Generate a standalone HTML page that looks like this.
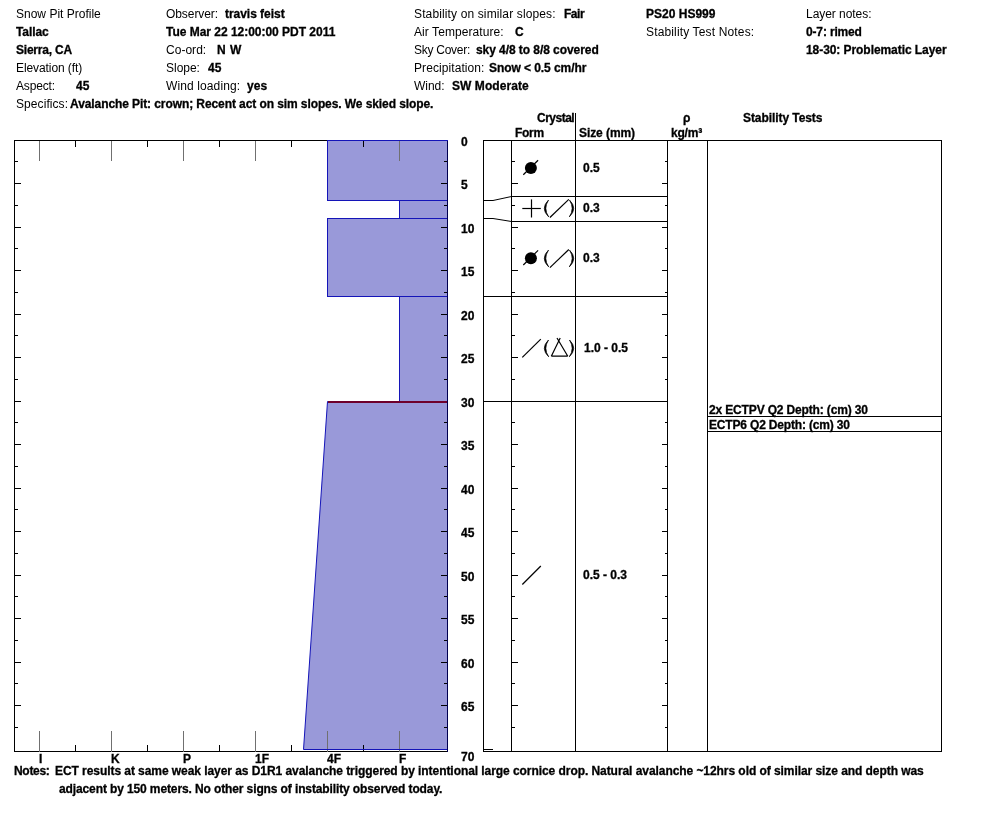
<!DOCTYPE html>
<html><head><meta charset="utf-8"><title>Snow Pit Profile</title>
<style>
html,body{margin:0;padding:0;background:#fff;}
body{width:994px;height:840px;position:relative;overflow:hidden;font-family:"Liberation Sans",sans-serif;font-size:12px;color:#000;}
.t{will-change:transform;position:absolute;white-space:nowrap;line-height:14px;height:14px;}
.b{font-weight:bold;-webkit-text-stroke:0.3px #000;}
svg{position:absolute;left:0;top:0;}
</style></head><body>
<div class="t " style="left:16.3px;top:6.6px;letter-spacing:0.006px;">Snow Pit Profile</div>
<div class="t b" style="left:16.3px;top:24.6px;letter-spacing:-0.073px;">Tallac</div>
<div class="t b" style="left:16.3px;top:42.6px;letter-spacing:-0.213px;">Sierra, CA</div>
<div class="t " style="left:16.3px;top:60.6px;letter-spacing:-0.083px;">Elevation (ft)</div>
<div class="t " style="left:16.3px;top:78.6px;letter-spacing:-0.147px;">Aspect:</div>
<div class="t b" style="left:75.5px;top:78.6px;">45</div>
<div class="t " style="left:16.3px;top:96.6px;letter-spacing:0.074px;">Specifics:</div>
<div class="t b" style="left:69.9px;top:96.6px;letter-spacing:-0.087px;">Avalanche Pit: crown; Recent act on sim slopes. We skied slope.</div>
<div class="t " style="left:166.3px;top:6.6px;letter-spacing:-0.076px;">Observer:</div>
<div class="t b" style="left:225.4px;top:6.6px;letter-spacing:-0.036px;">travis feist</div>
<div class="t b" style="left:166.3px;top:24.6px;letter-spacing:-0.021px;">Tue Mar 22 12:00:00 PDT 2011</div>
<div class="t " style="left:166.3px;top:42.6px;letter-spacing:0.026px;">Co-ord:</div>
<div class="t b" style="left:216.6px;top:42.6px;">N</div>
<div class="t b" style="left:230.4px;top:42.6px;">W</div>
<div class="t " style="left:166.3px;top:60.6px;letter-spacing:-0.022px;">Slope:</div>
<div class="t b" style="left:207.8px;top:60.6px;">45</div>
<div class="t " style="left:166.3px;top:78.6px;letter-spacing:0.114px;">Wind loading:</div>
<div class="t b" style="left:246.8px;top:78.6px;letter-spacing:0.090px;">yes</div>
<div class="t " style="left:414.3px;top:6.6px;letter-spacing:0.130px;">Stability on similar slopes:</div>
<div class="t b" style="left:563.5px;top:6.6px;letter-spacing:-0.479px;">Fair</div>
<div class="t " style="left:414.3px;top:24.6px;letter-spacing:0.070px;">Air Temperature:</div>
<div class="t b" style="left:515px;top:24.6px;">C</div>
<div class="t " style="left:414.3px;top:42.6px;letter-spacing:-0.259px;">Sky Cover:</div>
<div class="t b" style="left:475.5px;top:42.6px;letter-spacing:-0.063px;">sky 4/8 to 8/8 covered</div>
<div class="t " style="left:414.3px;top:60.6px;letter-spacing:0.080px;">Precipitation:</div>
<div class="t b" style="left:489.3px;top:60.6px;letter-spacing:-0.067px;">Snow &lt; 0.5 cm/hr</div>
<div class="t " style="left:414.3px;top:78.6px;letter-spacing:-0.037px;">Wind:</div>
<div class="t b" style="left:451.6px;top:78.6px;letter-spacing:0.062px;">SW Moderate</div>
<div class="t b" style="left:645.6px;top:6.6px;letter-spacing:0.011px;">PS20 HS999</div>
<div class="t " style="left:645.6px;top:24.6px;letter-spacing:0.149px;">Stability Test Notes:</div>
<div class="t " style="left:806.4px;top:6.6px;letter-spacing:-0.046px;">Layer notes:</div>
<div class="t b" style="left:806.4px;top:24.6px;letter-spacing:-0.156px;">0-7: rimed</div>
<div class="t b" style="left:806.4px;top:42.6px;letter-spacing:-0.066px;">18-30: Problematic Layer</div>
<div class="t b" style="left:536.5px;top:111.3px;letter-spacing:-0.498px;">Crystal</div>
<div class="t b" style="left:514.6px;top:126.4px;letter-spacing:-0.300px;">Form</div>
<div class="t b" style="left:579px;top:126.4px;letter-spacing:-0.076px;">Size (mm)</div>
<div class="t b" style="left:683.3px;top:111.3px;">&rho;</div>
<div class="t b" style="left:670.9px;top:126.4px;letter-spacing:-0.203px;">kg/m&sup3;</div>
<div class="t b" style="left:742.6px;top:111.3px;letter-spacing:-0.071px;">Stability Tests</div>
<div class="t b" style="left:461px;top:135.0px;">0</div>
<div class="t b" style="left:461px;top:178.0px;">5</div>
<div class="t b" style="left:461px;top:222.0px;">10</div>
<div class="t b" style="left:461px;top:265.0px;">15</div>
<div class="t b" style="left:461px;top:309.0px;">20</div>
<div class="t b" style="left:461px;top:352.0px;">25</div>
<div class="t b" style="left:461px;top:396.0px;">30</div>
<div class="t b" style="left:461px;top:439.0px;">35</div>
<div class="t b" style="left:461px;top:483.0px;">40</div>
<div class="t b" style="left:461px;top:526.0px;">45</div>
<div class="t b" style="left:461px;top:570.0px;">50</div>
<div class="t b" style="left:461px;top:613.0px;">55</div>
<div class="t b" style="left:461px;top:657.0px;">60</div>
<div class="t b" style="left:461px;top:700.0px;">65</div>
<div class="t b" style="left:461px;top:749.8px;">70</div>
<div class="t b" style="left:38.7px;top:752.0px;">I</div>
<div class="t b" style="left:110.7px;top:752.0px;">K</div>
<div class="t b" style="left:182.7px;top:752.0px;">P</div>
<div class="t b" style="left:254.7px;top:752.0px;">1F</div>
<div class="t b" style="left:326.7px;top:752.0px;">4F</div>
<div class="t b" style="left:398.7px;top:752.0px;">F</div>
<div class="t b" style="left:582.6px;top:160.8px;">0.5</div>
<div class="t b" style="left:582.6px;top:201px;">0.3</div>
<div class="t b" style="left:582.6px;top:251px;">0.3</div>
<div class="t b" style="left:583.6px;top:340.6px;">1.0 - 0.5</div>
<div class="t b" style="left:582.6px;top:567.5px;">0.5 - 0.3</div>
<div class="t b" style="left:708.9px;top:402.8px;letter-spacing:-0.151px;">2x ECTPV Q2 Depth: (cm) 30</div>
<div class="t b" style="left:708.9px;top:417.9px;letter-spacing:-0.174px;">ECTP6 Q2 Depth: (cm) 30</div>
<div class="t b" style="left:13.7px;top:763.9px;letter-spacing:-0.307px;">Notes:</div>
<div class="t b" style="left:55.3px;top:763.9px;letter-spacing:-0.061px;">ECT results at same weak layer as D1R1 avalanche triggered by intentional large cornice drop. Natural avalanche ~12hrs old of similar size and depth was</div>
<div class="t b" style="left:59.1px;top:781.6px;letter-spacing:-0.115px;">adjacent by 150 meters. No other signs of instability observed today.</div>
<svg width="994" height="840" viewBox="0 0 994 840" shape-rendering="crispEdges">
<rect x="327.5" y="140.5" width="120.0" height="60.0" fill="#9999d9" stroke="none"/>
<rect x="399.5" y="200.5" width="48.0" height="18.0" fill="#9999d9" stroke="none"/>
<rect x="327.5" y="218.5" width="120.0" height="78.0" fill="#9999d9" stroke="none"/>
<rect x="399.5" y="296.5" width="48.0" height="105.0" fill="#9999d9" stroke="none"/>
<polygon points="327.5,401.5 447.5,401.5 447.5,749.5 303.5,749.5" fill="#9999d9" stroke="none" shape-rendering="auto"/>
<rect x="14.5" y="140.5" width="433.0" height="611.0" fill="none" stroke="#000" stroke-width="1"/>
<line x1="39.5" y1="140.5" x2="39.5" y2="160.5" stroke="#707070"/>
<line x1="39.5" y1="751.5" x2="39.5" y2="730.5" stroke="#707070"/>
<line x1="75.5" y1="140.5" x2="75.5" y2="146.5" stroke="#000"/>
<line x1="75.5" y1="751.5" x2="75.5" y2="744.5" stroke="#000"/>
<line x1="111.5" y1="140.5" x2="111.5" y2="160.5" stroke="#707070"/>
<line x1="111.5" y1="751.5" x2="111.5" y2="730.5" stroke="#707070"/>
<line x1="147.5" y1="140.5" x2="147.5" y2="146.5" stroke="#000"/>
<line x1="147.5" y1="751.5" x2="147.5" y2="744.5" stroke="#000"/>
<line x1="183.5" y1="140.5" x2="183.5" y2="160.5" stroke="#707070"/>
<line x1="183.5" y1="751.5" x2="183.5" y2="730.5" stroke="#707070"/>
<line x1="219.5" y1="140.5" x2="219.5" y2="146.5" stroke="#000"/>
<line x1="219.5" y1="751.5" x2="219.5" y2="744.5" stroke="#000"/>
<line x1="255.5" y1="140.5" x2="255.5" y2="160.5" stroke="#707070"/>
<line x1="255.5" y1="751.5" x2="255.5" y2="730.5" stroke="#707070"/>
<line x1="291.5" y1="140.5" x2="291.5" y2="146.5" stroke="#000"/>
<line x1="291.5" y1="751.5" x2="291.5" y2="744.5" stroke="#000"/>
<line x1="327.5" y1="140.5" x2="327.5" y2="160.5" stroke="#707070"/>
<line x1="327.5" y1="751.5" x2="327.5" y2="730.5" stroke="#707070"/>
<line x1="363.5" y1="140.5" x2="363.5" y2="146.5" stroke="#000"/>
<line x1="363.5" y1="751.5" x2="363.5" y2="744.5" stroke="#000"/>
<line x1="399.5" y1="140.5" x2="399.5" y2="160.5" stroke="#707070"/>
<line x1="399.5" y1="751.5" x2="399.5" y2="730.5" stroke="#707070"/>
<line x1="14.5" y1="161.5" x2="17.5" y2="161.5" stroke="#000"/>
<line x1="447.5" y1="161.5" x2="443.5" y2="161.5" stroke="#000"/>
<line x1="511.5" y1="161.5" x2="514.5" y2="161.5" stroke="#000"/>
<line x1="667.5" y1="161.5" x2="664.5" y2="161.5" stroke="#000"/>
<line x1="14.5" y1="183.5" x2="20.5" y2="183.5" stroke="#000"/>
<line x1="447.5" y1="183.5" x2="440.5" y2="183.5" stroke="#000"/>
<line x1="511.5" y1="183.5" x2="517.5" y2="183.5" stroke="#000"/>
<line x1="667.5" y1="183.5" x2="661.5" y2="183.5" stroke="#000"/>
<line x1="14.5" y1="205.5" x2="17.5" y2="205.5" stroke="#000"/>
<line x1="447.5" y1="205.5" x2="443.5" y2="205.5" stroke="#000"/>
<line x1="511.5" y1="205.5" x2="514.5" y2="205.5" stroke="#000"/>
<line x1="667.5" y1="205.5" x2="664.5" y2="205.5" stroke="#000"/>
<line x1="14.5" y1="227.5" x2="20.5" y2="227.5" stroke="#000"/>
<line x1="447.5" y1="227.5" x2="440.5" y2="227.5" stroke="#000"/>
<line x1="511.5" y1="227.5" x2="517.5" y2="227.5" stroke="#000"/>
<line x1="667.5" y1="227.5" x2="661.5" y2="227.5" stroke="#000"/>
<line x1="14.5" y1="248.5" x2="17.5" y2="248.5" stroke="#000"/>
<line x1="447.5" y1="248.5" x2="443.5" y2="248.5" stroke="#000"/>
<line x1="511.5" y1="248.5" x2="514.5" y2="248.5" stroke="#000"/>
<line x1="667.5" y1="248.5" x2="664.5" y2="248.5" stroke="#000"/>
<line x1="14.5" y1="270.5" x2="20.5" y2="270.5" stroke="#000"/>
<line x1="447.5" y1="270.5" x2="440.5" y2="270.5" stroke="#000"/>
<line x1="511.5" y1="270.5" x2="517.5" y2="270.5" stroke="#000"/>
<line x1="667.5" y1="270.5" x2="661.5" y2="270.5" stroke="#000"/>
<line x1="14.5" y1="292.5" x2="17.5" y2="292.5" stroke="#000"/>
<line x1="447.5" y1="292.5" x2="443.5" y2="292.5" stroke="#000"/>
<line x1="511.5" y1="292.5" x2="514.5" y2="292.5" stroke="#000"/>
<line x1="667.5" y1="292.5" x2="664.5" y2="292.5" stroke="#000"/>
<line x1="14.5" y1="314.5" x2="20.5" y2="314.5" stroke="#000"/>
<line x1="447.5" y1="314.5" x2="440.5" y2="314.5" stroke="#000"/>
<line x1="511.5" y1="314.5" x2="517.5" y2="314.5" stroke="#000"/>
<line x1="667.5" y1="314.5" x2="661.5" y2="314.5" stroke="#000"/>
<line x1="14.5" y1="335.5" x2="17.5" y2="335.5" stroke="#000"/>
<line x1="447.5" y1="335.5" x2="443.5" y2="335.5" stroke="#000"/>
<line x1="511.5" y1="335.5" x2="514.5" y2="335.5" stroke="#000"/>
<line x1="667.5" y1="335.5" x2="664.5" y2="335.5" stroke="#000"/>
<line x1="14.5" y1="357.5" x2="20.5" y2="357.5" stroke="#000"/>
<line x1="447.5" y1="357.5" x2="440.5" y2="357.5" stroke="#000"/>
<line x1="511.5" y1="357.5" x2="517.5" y2="357.5" stroke="#000"/>
<line x1="667.5" y1="357.5" x2="661.5" y2="357.5" stroke="#000"/>
<line x1="14.5" y1="379.5" x2="17.5" y2="379.5" stroke="#000"/>
<line x1="447.5" y1="379.5" x2="443.5" y2="379.5" stroke="#000"/>
<line x1="511.5" y1="379.5" x2="514.5" y2="379.5" stroke="#000"/>
<line x1="667.5" y1="379.5" x2="664.5" y2="379.5" stroke="#000"/>
<line x1="14.5" y1="401.5" x2="20.5" y2="401.5" stroke="#000"/>
<line x1="447.5" y1="401.5" x2="440.5" y2="401.5" stroke="#000"/>
<line x1="511.5" y1="401.5" x2="517.5" y2="401.5" stroke="#000"/>
<line x1="667.5" y1="401.5" x2="661.5" y2="401.5" stroke="#000"/>
<line x1="14.5" y1="422.5" x2="17.5" y2="422.5" stroke="#000"/>
<line x1="447.5" y1="422.5" x2="443.5" y2="422.5" stroke="#000"/>
<line x1="511.5" y1="422.5" x2="514.5" y2="422.5" stroke="#000"/>
<line x1="667.5" y1="422.5" x2="664.5" y2="422.5" stroke="#000"/>
<line x1="14.5" y1="444.5" x2="20.5" y2="444.5" stroke="#000"/>
<line x1="447.5" y1="444.5" x2="440.5" y2="444.5" stroke="#000"/>
<line x1="511.5" y1="444.5" x2="517.5" y2="444.5" stroke="#000"/>
<line x1="667.5" y1="444.5" x2="661.5" y2="444.5" stroke="#000"/>
<line x1="14.5" y1="466.5" x2="17.5" y2="466.5" stroke="#000"/>
<line x1="447.5" y1="466.5" x2="443.5" y2="466.5" stroke="#000"/>
<line x1="511.5" y1="466.5" x2="514.5" y2="466.5" stroke="#000"/>
<line x1="667.5" y1="466.5" x2="664.5" y2="466.5" stroke="#000"/>
<line x1="14.5" y1="488.5" x2="20.5" y2="488.5" stroke="#000"/>
<line x1="447.5" y1="488.5" x2="440.5" y2="488.5" stroke="#000"/>
<line x1="511.5" y1="488.5" x2="517.5" y2="488.5" stroke="#000"/>
<line x1="667.5" y1="488.5" x2="661.5" y2="488.5" stroke="#000"/>
<line x1="14.5" y1="509.5" x2="17.5" y2="509.5" stroke="#000"/>
<line x1="447.5" y1="509.5" x2="443.5" y2="509.5" stroke="#000"/>
<line x1="511.5" y1="509.5" x2="514.5" y2="509.5" stroke="#000"/>
<line x1="667.5" y1="509.5" x2="664.5" y2="509.5" stroke="#000"/>
<line x1="14.5" y1="531.5" x2="20.5" y2="531.5" stroke="#000"/>
<line x1="447.5" y1="531.5" x2="440.5" y2="531.5" stroke="#000"/>
<line x1="511.5" y1="531.5" x2="517.5" y2="531.5" stroke="#000"/>
<line x1="667.5" y1="531.5" x2="661.5" y2="531.5" stroke="#000"/>
<line x1="14.5" y1="553.5" x2="17.5" y2="553.5" stroke="#000"/>
<line x1="447.5" y1="553.5" x2="443.5" y2="553.5" stroke="#000"/>
<line x1="511.5" y1="553.5" x2="514.5" y2="553.5" stroke="#000"/>
<line x1="667.5" y1="553.5" x2="664.5" y2="553.5" stroke="#000"/>
<line x1="14.5" y1="575.5" x2="20.5" y2="575.5" stroke="#000"/>
<line x1="447.5" y1="575.5" x2="440.5" y2="575.5" stroke="#000"/>
<line x1="511.5" y1="575.5" x2="517.5" y2="575.5" stroke="#000"/>
<line x1="667.5" y1="575.5" x2="661.5" y2="575.5" stroke="#000"/>
<line x1="14.5" y1="596.5" x2="17.5" y2="596.5" stroke="#000"/>
<line x1="447.5" y1="596.5" x2="443.5" y2="596.5" stroke="#000"/>
<line x1="511.5" y1="596.5" x2="514.5" y2="596.5" stroke="#000"/>
<line x1="667.5" y1="596.5" x2="664.5" y2="596.5" stroke="#000"/>
<line x1="14.5" y1="618.5" x2="20.5" y2="618.5" stroke="#000"/>
<line x1="447.5" y1="618.5" x2="440.5" y2="618.5" stroke="#000"/>
<line x1="511.5" y1="618.5" x2="517.5" y2="618.5" stroke="#000"/>
<line x1="667.5" y1="618.5" x2="661.5" y2="618.5" stroke="#000"/>
<line x1="14.5" y1="640.5" x2="17.5" y2="640.5" stroke="#000"/>
<line x1="447.5" y1="640.5" x2="443.5" y2="640.5" stroke="#000"/>
<line x1="511.5" y1="640.5" x2="514.5" y2="640.5" stroke="#000"/>
<line x1="667.5" y1="640.5" x2="664.5" y2="640.5" stroke="#000"/>
<line x1="14.5" y1="662.5" x2="20.5" y2="662.5" stroke="#000"/>
<line x1="447.5" y1="662.5" x2="440.5" y2="662.5" stroke="#000"/>
<line x1="511.5" y1="662.5" x2="517.5" y2="662.5" stroke="#000"/>
<line x1="667.5" y1="662.5" x2="661.5" y2="662.5" stroke="#000"/>
<line x1="14.5" y1="683.5" x2="17.5" y2="683.5" stroke="#000"/>
<line x1="447.5" y1="683.5" x2="443.5" y2="683.5" stroke="#000"/>
<line x1="511.5" y1="683.5" x2="514.5" y2="683.5" stroke="#000"/>
<line x1="667.5" y1="683.5" x2="664.5" y2="683.5" stroke="#000"/>
<line x1="14.5" y1="705.5" x2="20.5" y2="705.5" stroke="#000"/>
<line x1="447.5" y1="705.5" x2="440.5" y2="705.5" stroke="#000"/>
<line x1="511.5" y1="705.5" x2="517.5" y2="705.5" stroke="#000"/>
<line x1="667.5" y1="705.5" x2="661.5" y2="705.5" stroke="#000"/>
<line x1="14.5" y1="727.5" x2="17.5" y2="727.5" stroke="#000"/>
<line x1="447.5" y1="727.5" x2="443.5" y2="727.5" stroke="#000"/>
<line x1="511.5" y1="727.5" x2="514.5" y2="727.5" stroke="#000"/>
<line x1="667.5" y1="727.5" x2="664.5" y2="727.5" stroke="#000"/>
<rect x="327.5" y="140.5" width="120.0" height="60.0" fill="none" stroke="#1414b8"/>
<rect x="399.5" y="200.5" width="48.0" height="18.0" fill="none" stroke="#1414b8"/>
<rect x="327.5" y="218.5" width="120.0" height="78.0" fill="none" stroke="#1414b8"/>
<rect x="399.5" y="296.5" width="48.0" height="105.0" fill="none" stroke="#1414b8"/>
<polygon points="327.5,401.5 447.5,401.5 447.5,749.5 303.5,749.5" fill="none" stroke="#1414b8" shape-rendering="auto"/>
<line x1="327.5" y1="402.0" x2="447.5" y2="402.0" stroke="#6e002c" stroke-width="2"/>
<line x1="447.5" y1="140.5" x2="447.5" y2="751.5" stroke="#000050"/>
<rect x="483.5" y="140.5" width="458.0" height="611.0" fill="none" stroke="#000"/>
<line x1="511.5" y1="140.5" x2="511.5" y2="751.5" stroke="#000"/>
<line x1="667.5" y1="140.5" x2="667.5" y2="751.5" stroke="#000"/>
<line x1="707.5" y1="140.5" x2="707.5" y2="751.5" stroke="#000"/>
<line x1="575.5" y1="113" x2="575.5" y2="751.5" stroke="#000"/>
<line x1="511.5" y1="196.5" x2="667.5" y2="196.5" stroke="#000"/>
<line x1="511.5" y1="221.5" x2="667.5" y2="221.5" stroke="#000"/>
<line x1="511.5" y1="296.5" x2="667.5" y2="296.5" stroke="#000"/>
<line x1="511.5" y1="401.5" x2="667.5" y2="401.5" stroke="#000"/>
<polyline points="483.5,200.5 493,200.5 511.5,196.5" fill="none" stroke="#000" shape-rendering="auto"/>
<polyline points="483.5,218.5 493,218.5 511.5,221.5" fill="none" stroke="#000" shape-rendering="auto"/>
<polyline points="483.5,296.5 493,296.5 511.5,296.5" fill="none" stroke="#000" shape-rendering="auto"/>
<polyline points="483.5,401.5 493,401.5 511.5,401.5" fill="none" stroke="#000" shape-rendering="auto"/>
<line x1="483.5" y1="749.5" x2="493" y2="749.5" stroke="#000"/>
<line x1="707.5" y1="416.5" x2="941.5" y2="416.5" stroke="#000"/>
<line x1="707.5" y1="431.5" x2="941.5" y2="431.5" stroke="#000"/>
<g shape-rendering="auto" stroke="#000" fill="none" stroke-width="1.2">
<circle cx="530.9" cy="168" r="6" fill="#000" stroke="none"/>
<line x1="523.3" y1="174.8" x2="538.1" y2="160.2"/>
<line x1="522.3" y1="208.5" x2="540.8" y2="208.5"/><line x1="531.5" y1="199.4" x2="531.5" y2="217.5"/>
<path d="M548.5,200.1 Q540.0,208.5 548.7,216.9 Q543.0,208.5 548.5,200.1Z" fill="#000" stroke-width="0.7"/>
<path d="M569.5,200.1 Q578.0,208.5 569.3,216.9 Q575.0,208.5 569.5,200.1Z" fill="#000" stroke-width="0.7"/>
<line x1="549.9" y1="217.5" x2="568.8" y2="199.4"/>
<circle cx="530.9" cy="258.2" r="6" fill="#000" stroke="none"/>
<line x1="523.3" y1="265.0" x2="538.1" y2="250.39999999999998"/>
<path d="M548.5,250.1 Q540.0,258.5 548.7,266.9 Q543.0,258.5 548.5,250.1Z" fill="#000" stroke-width="0.7"/>
<path d="M569.5,250.1 Q578.0,258.5 569.3,266.9 Q575.0,258.5 569.5,250.1Z" fill="#000" stroke-width="0.7"/>
<line x1="549.9" y1="267.6" x2="568.8" y2="249.5"/>
<line x1="522.3" y1="357.4" x2="540.8" y2="339.1"/>
<path d="M548.5,340.0 Q540.0,348.4 548.7,356.79999999999995 Q543.0,348.4 548.5,340.0Z" fill="#000" stroke-width="0.7"/>
<path d="M569.5,340.0 Q578.0,348.4 569.3,356.79999999999995 Q575.0,348.4 569.5,340.0Z" fill="#000" stroke-width="0.7"/>
<path d="M551.3,356.2 L567.8,356.2 M551.3,356.2 L560.2,338 M567.8,356.2 L557,338"/>
<line x1="522.3" y1="584.5" x2="540.8" y2="566"/>
</g>
</svg>
</body></html>
